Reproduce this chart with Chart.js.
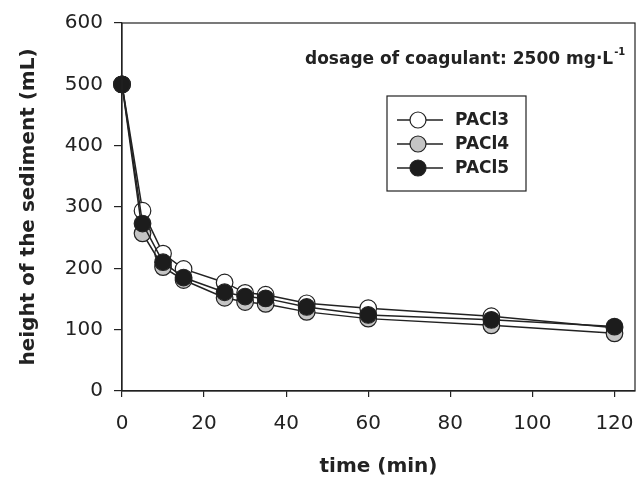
<!DOCTYPE html>
<html>
<head>
<meta charset="utf-8">
<script src="https://cdn.jsdelivr.net/npm/chart.js@4/dist/chart.umd.min.js"></script>
<style>
  html, body { margin: 0; padding: 0; background: #fff; }
  #wrap { width: 639px; height: 481px; }
</style>
</head>
<body>
<div id="wrap"><canvas id="sedChart" width="639" height="481"></canvas></div>
<script>
// time (min)
const timeMin = [0, 5, 10, 15, 25, 30, 35, 45, 60, 90, 120];
// height of the sediment (mL)
const pacl3 = [500, 294, 224, 199, 177, 160, 157, 143, 135, 122, 103];
const pacl4 = [500, 257, 202, 181, 152, 145, 142, 129, 118, 107, 94];
const pacl5 = [500, 273, 210, 185, 161, 154, 151, 137, 124, 116, 105];
const seriesNames = ["PACl3", "PACl4", "PACl5"];
const yTicks = [0, 100, 200, 300, 400, 500, 600];
const xTicks = [0, 20, 40, 60, 80, 100, 120];
const noteText = "dosage of coagulant: 2500 mg\u00B7L";
const noteSup = "-1";

const FONT = "'DejaVu Sans', Arial, sans-serif";
const fills = ["#ffffff", "#c4c4c4", "#1c1c1c"];

function pts(ys){ return timeMin.map((t, i) => ({x: t, y: ys[i]})); }

// frame, note and boxed legend
const extras = {
  id: "extras",
  afterDraw(chart){
    const ctx = chart.ctx, a = chart.chartArea;
    ctx.save();
    ctx.strokeStyle = "#222"; ctx.lineWidth = 1.2;
    ctx.strokeRect(a.left, a.top, a.right - a.left, a.bottom - a.top);

    // note
    ctx.fillStyle = "#222";
    ctx.font = "bold 17px " + FONT;
    ctx.textBaseline = "alphabetic";
    ctx.textAlign = "left";
    const nx = a.left + 183, ny = a.top + 41;
    ctx.fillText(noteText, nx, ny);
    const w = ctx.measureText(noteText).width;
    ctx.font = "bold 10px " + FONT;
    ctx.fillText(noteSup, nx + w + 1, ny - 9);

    // legend box
    const bx = a.left + 265, by = a.top + 73, bw = 139, bh = 95;
    ctx.lineWidth = 1.2;
    ctx.strokeRect(bx, by, bw, bh);
    seriesNames.forEach((name, i) => {
      const ry = by + 24 + i * 24;
      ctx.beginPath();
      ctx.moveTo(bx + 10, ry); ctx.lineTo(bx + 56, ry);
      ctx.strokeStyle = "#222"; ctx.lineWidth = 1.3; ctx.stroke();
      ctx.beginPath();
      ctx.arc(bx + 31, ry, 8, 0, Math.PI * 2);
      ctx.fillStyle = fills[i]; ctx.fill();
      ctx.lineWidth = 1.2; ctx.stroke();
      ctx.fillStyle = "#222";
      ctx.font = "bold 17px " + FONT;
      ctx.textBaseline = "middle";
      ctx.fillText(name, bx + 68, ry + 1);
    });
    ctx.restore();
  }
};

const datasets = seriesNames.map((name, i) => ({
  label: name,
  data: pts([pacl3, pacl4, pacl5][i]),
  borderColor: "#222",
  borderWidth: 1.5,
  backgroundColor: fills[i],
  pointBackgroundColor: fills[i],
  pointBorderColor: "#222",
  pointBorderWidth: 1.2,
  pointRadius: 8.3,
  tension: 0,
  clip: false,
  order: 2 - i
}));

new Chart(document.getElementById("sedChart").getContext("2d"), {
  type: "line",
  data: { datasets: datasets },
  options: {
    responsive: false,
    animation: false,
    layout: { autoPadding: false, padding: { top: 20, right: 4, left: 0, bottom: 0 } },
    plugins: { legend: { display: false }, tooltip: { enabled: false } },
    scales: {
      x: {
        type: "linear",
        min: 0, max: 125,
        afterBuildTicks: s => { s.ticks = xTicks.map(v => ({value: v})); },
        afterFit: s => { s.height = 90; s.paddingRight = 0; s.paddingLeft = 0; },
        grid: { drawOnChartArea: false, drawTicks: true, tickLength: 6, color: "#222", lineWidth: 1.2 },
        border: { display: true, color: "#222", width: 1.2 },
        ticks: { color: "#222", font: { family: FONT, size: 20 }, padding: 15, maxRotation: 0 },
        title: { display: true, text: "time (min)", color: "#222",
                 font: { family: FONT, size: 20, weight: "bold" }, padding: { top: 0, bottom: 2 } }
      },
      y: {
        min: 0, max: 600,
        afterBuildTicks: s => { s.ticks = yTicks.map(v => ({value: v})); },
        afterFit: s => { s.width = 122; },
        grid: { drawOnChartArea: false, drawTicks: true, tickLength: 8, color: "#222", lineWidth: 1.2 },
        border: { display: true, color: "#222", width: 1.2 },
        ticks: { color: "#222", font: { family: FONT, size: 20 }, padding: 11 },
        title: { display: true, text: "height of the sediment (mL)", color: "#222",
                 font: { family: FONT, size: 20, weight: "bold" }, padding: { top: 17, bottom: 0 } }
      }
    }
  },
  plugins: [extras]
});
</script>
</body>
</html>
